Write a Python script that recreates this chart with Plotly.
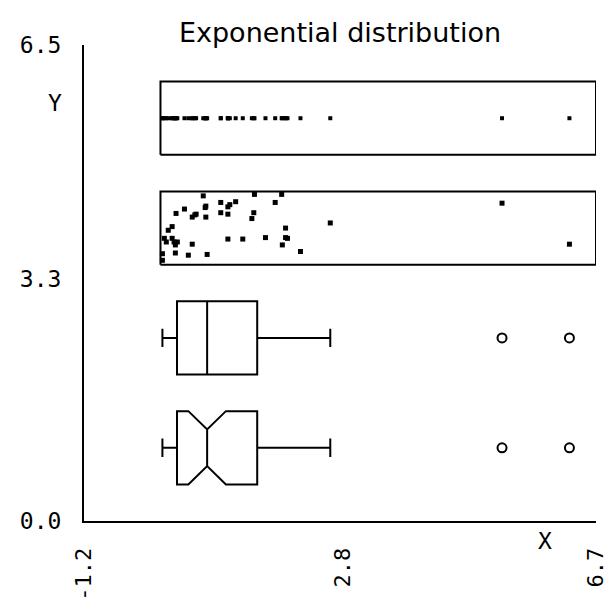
import plotly.graph_objects as go

# Sample drawn from an exponential distribution (45 observations)
sample = [
    0.04, 0.07, 0.01, 0.01, 0.10, 0.16, 0.16, 0.19, 0.21, 0.21,
    0.22, 0.24, 0.35, 0.41, 0.47, 0.47, 0.51, 0.53, 0.68, 0.68,
    0.64, 0.67, 0.70, 0.91, 0.91, 1.02, 1.02, 1.02, 1.05, 1.14,
    1.25, 1.39, 1.42, 1.43, 1.60, 1.75, 1.85, 1.86, 1.91, 1.91,
    1.94, 2.14, 2.60, 5.25, 6.29,
]

# Vertical jitter offsets for the jittered dot plot (one per observation)
jitter = [
    -0.14, -0.19, -0.44, -0.35, -0.03, 0.02, -0.14, -0.19, -0.23, -0.34,
    0.20, -0.19, 0.26, -0.37, -0.22, 0.15, 0.18, 0.19, 0.30, 0.15,
    0.44, 0.28, -0.36, 0.35, 0.21, 0.29, 0.19, -0.15, 0.32, 0.36,
    -0.15, 0.13, 0.21, 0.46, -0.13, 0.35, 0.46, -0.23, 0.00, -0.13,
    -0.14, -0.32, 0.07, 0.34, -0.22,
]

x_ticks = [-1.2, 2.8, 6.7]
x_tick_text = ["-1.2", "2.8", "6.7"]
y_ticks = [0.0, 3.3, 6.5]
y_tick_text = ["0.0", "3.3", "6.5"]

# Layout constants
X_MIN, X_MAX = -1.2, 6.7
Y_MIN, Y_MAX = 0.0, 6.5
ROW_NOTCH, ROW_BOX, ROW_JITTER, ROW_STRIP = 1.0, 2.5, 4.0, 5.5
ROW_H = 1.0
INK = "black"
MONO = "DejaVu Sans Mono"
EPS = 1e-6

n = len(sample)
fig = go.Figure()


def frame(center):
    lo = min(sample) - 0.03
    half = ROW_H / 2
    return go.Scatter(
        x=[lo, X_MAX, X_MAX, lo, lo],
        y=[center - half, center - half, center + half, center + half, center - half],
        mode="lines", line=dict(color=INK, width=2),
        hoverinfo="skip", showlegend=False, cliponaxis=False,
    )


# Notched box plot
fig.add_trace(go.Box(
    x=sample, y0=ROW_NOTCH, orientation="h", width=ROW_H,
    notched=True, notchwidth=0.25, whiskerwidth=0.25,
    boxpoints="outliers", pointpos=0, jitter=0,
    line=dict(color=INK, width=2), fillcolor="rgba(0,0,0,0)",
    marker=dict(symbol="circle-open", size=9, color=INK, line=dict(width=2)),
    showlegend=False,
))

# Standard box plot
fig.add_trace(go.Box(
    x=sample, y0=ROW_BOX, orientation="h", width=ROW_H,
    whiskerwidth=0.25,
    boxpoints="outliers", pointpos=0, jitter=0,
    line=dict(color=INK, width=2), fillcolor="rgba(0,0,0,0)",
    marker=dict(symbol="circle-open", size=9, color=INK, line=dict(width=2)),
    showlegend=False,
))

# Jittered dot plot inside a frame
fig.add_trace(frame(ROW_JITTER))
fig.add_trace(go.Scatter(
    x=sample, y=[ROW_JITTER + j for j in jitter], mode="markers",
    marker=dict(symbol="square", size=5, color=INK),
    showlegend=False,
))

# One-dimensional dot plot inside a frame
fig.add_trace(frame(ROW_STRIP))
fig.add_trace(go.Scatter(
    x=sample, y=[ROW_STRIP] * n, mode="markers",
    marker=dict(symbol="square", size=4, color=INK),
    showlegend=False,
))

fig.update_layout(
    width=609, height=614,
    margin=dict(l=84, r=13, t=45, b=93),
    paper_bgcolor="white", plot_bgcolor="white",
    title=dict(
        text="Exponential distribution",
        x=0.5, xref="paper", xanchor="center",
        y=1 - 33 / 614, yanchor="middle",
        font=dict(family="DejaVu Sans", size=27, color=INK),
    ),
    xaxis=dict(
        range=[X_MIN - EPS, X_MAX + EPS], tickvals=x_ticks, ticktext=x_tick_text,
        tickangle=-90, ticks="", ticklabelstandoff=16,
        ticklabeloverflow="allow", automargin=False,
        showline=True, linecolor=INK, linewidth=2,
        showgrid=False, zeroline=False,
        tickfont=dict(family=MONO, size=22, color=INK),
    ),
    yaxis=dict(
        range=[Y_MIN - EPS, Y_MAX + EPS], tickvals=y_ticks, ticktext=y_tick_text,
        ticks="", ticklabelstandoff=16,
        ticklabeloverflow="allow", automargin=False,
        showline=True, linecolor=INK, linewidth=2,
        showgrid=False, zeroline=False,
        tickfont=dict(family=MONO, size=23, color=INK),
    ),
    annotations=[
        dict(text="Y", xref="paper", yref="paper", x=0, y=1,
             xanchor="center", yanchor="middle", xshift=-29, yshift=-58,
             showarrow=False, font=dict(family=MONO, size=23, color=INK)),
        dict(text="X", xref="paper", yref="paper", x=0, y=0,
             xanchor="center", yanchor="middle", xshift=461, yshift=-20,
             showarrow=False, font=dict(family=MONO, size=23, color=INK)),
    ],
)

fig.write_html("out.html")
